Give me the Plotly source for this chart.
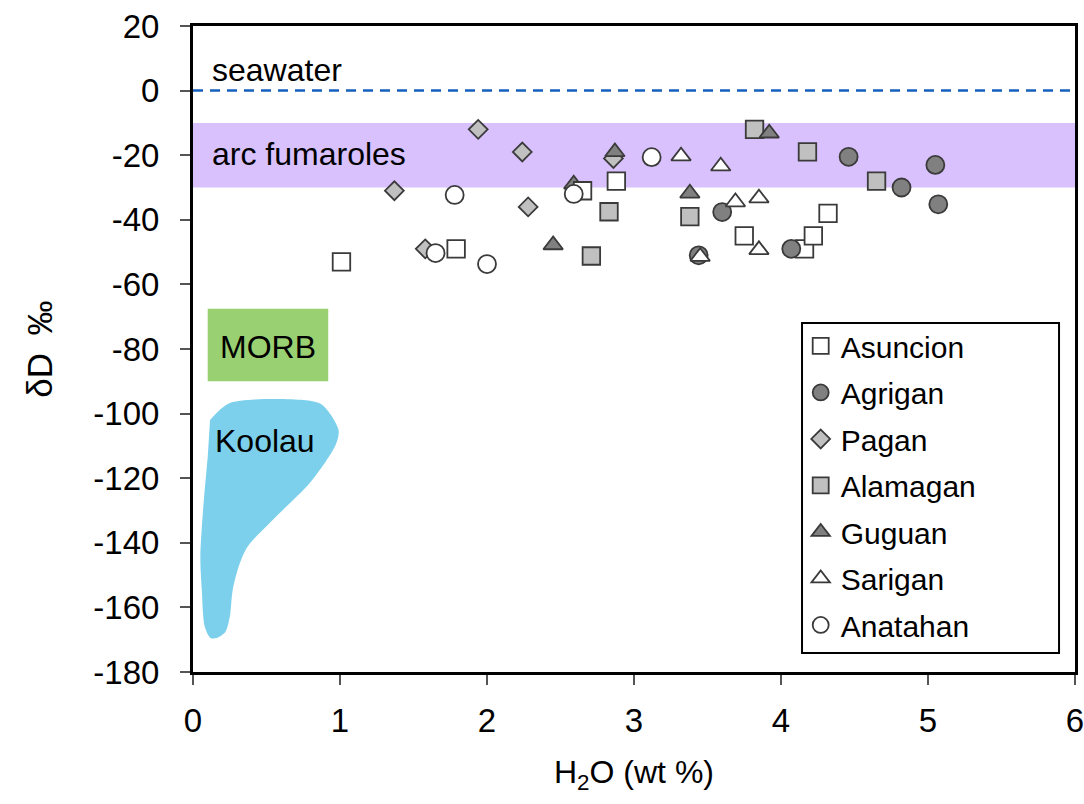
import plotly.graph_objects as go

# ---------------- data ----------------
asuncion_x = [1.01, 1.79, 2.65, 2.88, 3.75, 4.16, 4.22, 4.32]
asuncion_y = [-53, -49, -31, -28, -45, -49, -45, -38]

agrigan_x = [3.44, 3.60, 4.07, 4.46, 4.82, 5.05, 5.07]
agrigan_y = [-51, -37.6, -49, -20.5, -30, -23, -35.2]

pagan_x = [1.37, 1.58, 1.94, 2.24, 2.28, 2.86]
pagan_y = [-31, -49, -12, -19, -36, -21]

alamagan_x = [2.71, 2.83, 3.38, 3.82, 4.18, 4.65]
alamagan_y = [-51.2, -37.5, -39, -12, -19, -28]

guguan_x = [2.45, 2.59, 2.87, 3.38, 3.92]
guguan_y = [-47.8, -29, -19, -31.8, -13.2]

sarigan_x = [3.32, 3.45, 3.59, 3.69, 3.85, 3.85]
sarigan_y = [-20.3, -51.4, -23.4, -34.5, -33.3, -49.3]

anatahan_x = [1.65, 1.78, 2.00, 2.59, 3.12]
anatahan_y = [-50.3, -32.3, -53.7, -32, -20.6]

# reference fields
seawater_dD = 0
arc_fumaroles_dD = [-10, -30]
morb_h2o = [0.10, 0.92]
morb_dD = [-67.5, -90]
koolau_x = [0.116, 0.25, 0.75, 0.88, 0.99, 0.97, 0.80, 0.59, 0.37, 0.31,
            0.27, 0.25, 0.22, 0.16, 0.12, 0.08, 0.06, 0.05, 0.07, 0.10]
koolau_y = [-102, -96.7, -95.8, -97.3, -105, -109.7, -121.2, -130.8, -141.3,
            -147.5, -154.6, -163, -167.6, -169.5, -169.5, -166, -154.6,
            -144.4, -128.9, -113.5]

x_ticks = [0, 1, 2, 3, 4, 5, 6]
y_ticks = [20, 0, -20, -40, -60, -80, -100, -120, -140, -160, -180]
y_tick_labels = ["20", "0", "-20", "-40", "-60", "-80", "-100", "-120",
                 "-140", "-160", "-180"]

# ---------------- figure ----------------
FONT = "Liberation Sans, Arial, sans-serif"
EDGE = "#3a3a3a"

fig = go.Figure()

fig.add_trace(go.Scatter(
    x=koolau_x, y=koolau_y, mode="lines", fill="toself",
    line=dict(shape="spline", width=0, color="#7CD0EC", smoothing=0.8),
    fillcolor="#7CD0EC", showlegend=False, hoverinfo="skip"))

series = [
    # name, x, y, symbol, fill, size, legend rank  (draw order = list order)
    ("Pagan", pagan_x, pagan_y, "diamond", "#C0C0C0", 14.5, 3),
    ("Alamagan", alamagan_x, alamagan_y, "square", "#C0C0C0", 17.5, 4),
    ("Guguan", guguan_x, guguan_y, "triangle-up", "#808080", 17, 5),
    ("Asuncion", asuncion_x, asuncion_y, "square", "#FFFFFF", 17.5, 1),
    ("Agrigan", agrigan_x, agrigan_y, "circle", "#808080", 18, 2),
    ("Sarigan", sarigan_x, sarigan_y, "triangle-up", "#FFFFFF", 17, 6),
    ("Anatahan", anatahan_x, anatahan_y, "circle", "#FFFFFF", 18, 7),
]
for name, xs, ys, sym, col, size, rank in series:
    fig.add_trace(go.Scatter(
        x=xs, y=ys, mode="markers", name=name, legendrank=rank,
        legendgroup=name,
        marker=dict(symbol=sym, color=col, size=size,
                    line=dict(color=EDGE, width=1.8))))

fig.add_shape(type="rect", xref="x", yref="y", layer="below",
              x0=x_ticks[0], x1=x_ticks[-1],
              y0=arc_fumaroles_dD[0], y1=arc_fumaroles_dD[1],
              fillcolor="#D8C1FD", line=dict(width=0))
fig.add_shape(type="rect", xref="x", yref="y", layer="below",
              x0=morb_h2o[0], x1=morb_h2o[1], y0=morb_dD[0], y1=morb_dD[1],
              fillcolor="#99D072", line=dict(width=0))
fig.add_shape(type="line", xref="x", yref="y", layer="above",
              x0=x_ticks[0], x1=x_ticks[-1], y0=seawater_dD, y1=seawater_dD,
              line=dict(color="#1560BD", width=2.5, dash="10px,7px"))
# legend frame
fig.add_shape(type="rect", xref="paper", yref="paper", layer="above",
              x0=0.6905, x1=0.9819, y0=0.0294, y1=0.5402,
              fillcolor="white", line=dict(color="black", width=2))

ann_font = dict(family=FONT, size=32, color="black")
fig.add_annotation(x=0.115, y=6.5, text="seawater", showarrow=False,
                   xanchor="left", yanchor="middle", font=ann_font)
fig.add_annotation(x=0.115, y=-19.5, text="arc fumaroles", showarrow=False,
                   xanchor="left", yanchor="middle", font=ann_font)
fig.add_annotation(x=0.51, y=-79.5, text="MORB", showarrow=False,
                   xanchor="center", yanchor="middle", font=ann_font)
fig.add_annotation(x=0.49, y=-108.5, text="Koolau", showarrow=False,
                   xanchor="center", yanchor="middle", font=ann_font)

axis_common = dict(
    showline=True, linecolor="black", linewidth=3, mirror=True,
    ticks="outside", ticklen=10, tickwidth=1.5, tickcolor="#555555",
    showgrid=False, zeroline=False, automargin=False,
    ticklabeloverflow="allow",
    tickfont=dict(family=FONT, size=33, color="black"),
)

fig.update_layout(
    width=1084, height=804,
    margin=dict(l=193, r=9, t=26, b=132),
    paper_bgcolor="white", plot_bgcolor="white",
    font=dict(family=FONT, color="black"),
    xaxis=dict(range=[x_ticks[0], x_ticks[-1]], tickvals=x_ticks,
               ticklabelstandoff=7,
               title=dict(text="H<sub>2</sub>O (wt %)",
                          font=dict(family=FONT, size=32), standoff=24),
               **axis_common),
    yaxis=dict(range=[y_ticks[-1], y_ticks[0]], tickvals=y_ticks,
               ticktext=y_tick_labels, ticklabelstandoff=14,
               title=dict(text="δD\u2002‰", font=dict(family=FONT, size=35),
                          standoff=31),
               **axis_common),
    legend=dict(x=0.689, xanchor="left", y=0.545, yanchor="top",
                bgcolor="rgba(0,0,0,0)", borderwidth=0,
                font=dict(family=FONT, size=30, color="black"),
                traceorder="grouped", tracegroupgap=4.5,
                itemsizing="trace"),
    hovermode=False,
)

fig.write_html("out.html", config={"displayModeBar": False},
               post_script="document.body.style.margin='0px';")
